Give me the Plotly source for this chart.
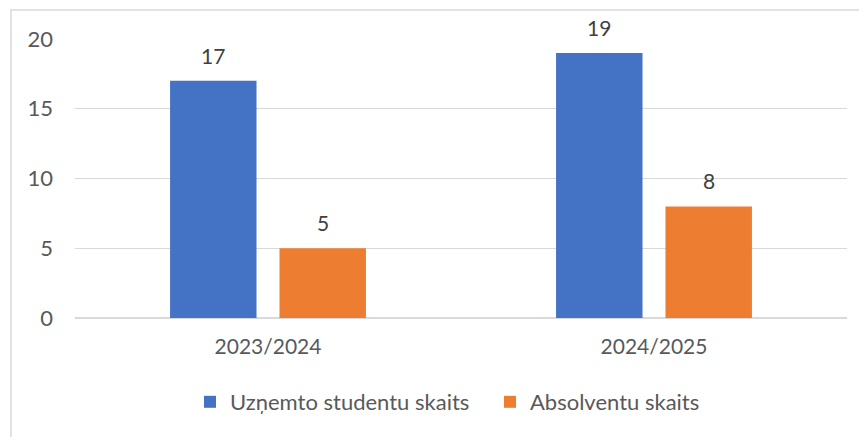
import plotly.graph_objects as go

categories = ["2023/2024", "2024/2025"]
series_names = ["Uzņemto studentu skaits", "Absolventu skaits"]
admitted = [17, 19]
graduates = [5, 8]
y_ticks = [0, 5, 10, 15, 20]

colors = ["#4472C4", "#ED7D31"]
FONT = "Lato"
TXT = "#595959"

OFF = 8  # page body margin
W, H = 867 - OFF, 437 - OFF
ml, mt = 75 - OFF, 39 - OFF
mr = W - (847 - OFF)
mb = H - (318 - OFF)
plot_w = W - ml - mr
plot_h = H - mt - mb

fig = go.Figure()
series = [admitted, graduates]
for name, vals, col in zip(series_names, series, colors):
    fig.add_trace(go.Bar(x=categories, y=vals, name=name, marker=dict(color=col, line=dict(width=0))))

bargap = 0.433
slot = plot_w / len(categories) * (1 - bargap) / 2
annotations = []
for i, vals in enumerate(series):
    for j, v in enumerate(vals):
        annotations.append(dict(
            x=categories[j], y=v, xref="x", yref="y", text=str(v), showarrow=False,
            xshift=(i - 0.5) * slot, yshift=11, yanchor="bottom",
            font=dict(family=FONT, size=21, color="#404040")))

fig.update_layout(
    width=W, height=H,
    margin=dict(l=ml, r=mr, t=mt, b=mb, autoexpand=False),
    paper_bgcolor="white", plot_bgcolor="white",
    barmode="group", bargap=bargap, bargroupgap=0.21,
    font=dict(family=FONT, size=21, color=TXT),
    showlegend=True,
    legend=dict(orientation="h", x=(204 - 14 - 75) / plot_w, xanchor="left", y=-84 / plot_h, yanchor="middle",
                font=dict(family=FONT, size=22, color=TXT), entrywidth=255, entrywidthmode="pixels"),
    annotations=annotations,
    shapes=[dict(type="rect", xref="paper", yref="paper",
                 x0=(11 - 75) / plot_w, x1=1 + (mr + 10) / plot_w,
                 y0=-(mb + 10) / plot_h, y1=1 + (39 - 10) / plot_h,
                 line=dict(color="#D9D9D9", width=1.5), fillcolor="rgba(0,0,0,0)", layer="below")],
)
fig.update_xaxes(showgrid=False, showline=False, ticks="", ticklabelstandoff=14,
                 tickfont=dict(size=21, color=TXT), zeroline=False)
fig.update_yaxes(range=[0, 20], tickvals=y_ticks, showgrid=True, gridcolor="#D9D9D9", gridwidth=1.2,
                 zeroline=True, zerolinecolor="#D9D9D9", zerolinewidth=1.5, showline=False,
                 ticks="", ticklabelstandoff=21, tickfont=dict(size=22, color=TXT))

fig.write_html("out.html")
